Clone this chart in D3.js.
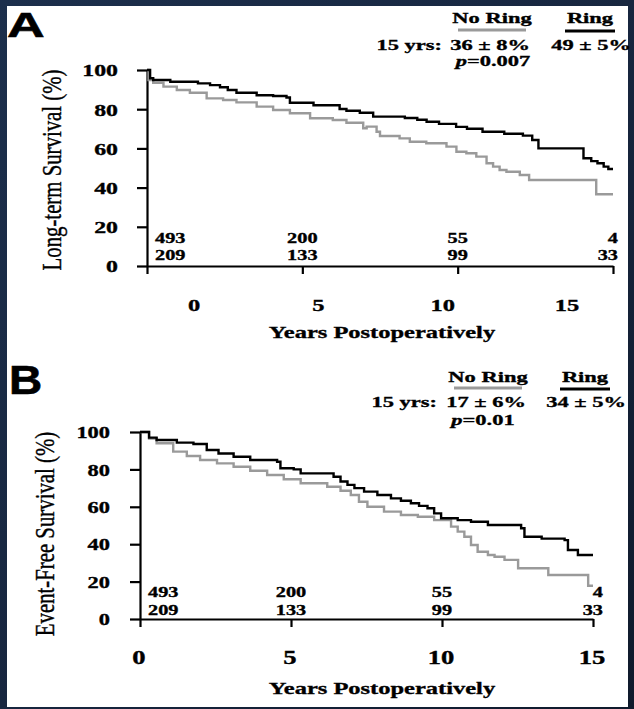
<!DOCTYPE html>
<html><head><meta charset="utf-8">
<script src="https://cdn.jsdelivr.net/npm/d3@7"></script>
<style>html,body{margin:0;padding:0;background:#15233a;}svg{display:block;}</style>
</head><body>
<svg id="chart" width="634" height="709"></svg>
<script>
// ---------- data ----------
const seriesNames = ["No Ring", "Ring"];
const yTicks = [0, 20, 40, 60, 80, 100];
const xTicks = [0, 5, 10, 15];
const ringAtRisk = [493, 200, 55, 4];
const noRingAtRisk = [209, 133, 99, 33];

// Panel A: long-term survival [years, %]
const ringA = [[0,100],[0.1,95.8],[0.2,94.9],[0.75,94],[1.64,93.2],[2.03,92.3],[2.35,91.2],[2.6,89.8],[2.88,88.4],[3.53,87.1],[4.06,86.7],[4.49,86],[4.6,83.3],[5.36,82],[6.2,80.1],[6.42,79.2],[6.85,78.2],[7.28,76.2],[8.3,75.5],[8.7,74.6],[9.0,73.6],[9.4,72.5],[9.95,71],[10.3,70],[10.8,68.5],[11.5,67.5],[12.1,66.5],[12.4,64.3],[12.6,60],[14.05,55],[14.3,53.5],[14.5,52.4],[14.7,50.7],[14.85,49.5],[15,49.5]];
const noRingA = [[0,100],[0.05,94.9],[0.2,93.5],[0.53,91.5],[0.96,89.8],[1.38,88.4],[1.92,85.5],[2.45,84.7],[2.88,83.5],[3.53,81.3],[4.06,79.6],[4.6,77.9],[5.25,75.4],[5.98,74.5],[6.42,73.1],[6.96,70.3],[7.07,71.1],[7.39,68.5],[7.5,66.3],[8.13,65.1],[8.46,63.4],[8.99,62.6],[9.64,60.9],[9.96,58.3],[10.28,57.5],[10.6,55.8],[10.93,52.4],[11.14,50.7],[11.35,49],[11.57,48.1],[12,46.4],[12.3,43.9],[14.46,36.6],[15,36.6]];
// Panel B: event-free survival
const ringB = [[0,100],[0.3,97],[0.55,95.7],[1.22,94.3],[1.77,93.6],[2.21,90.4],[2.6,88.5],[3.1,86.8],[3.65,85],[4.54,84.1],[4.65,80.6],[5.09,80],[5.32,77.9],[6.41,76.1],[6.64,73.5],[6.87,71.7],[7.1,70],[7.42,68.1],[7.86,66.3],[8.31,64.5],[8.64,63.2],[8.97,61.9],[9.24,60.5],[9.52,59.2],[9.74,56.5],[9.97,53.9],[10.52,52.9],[10.96,52],[11.52,50.3],[12.62,48.5],[12.73,44],[13.3,43],[14.06,42.2],[14.17,36.9],[14.5,34.2],[15,34.2]];
const noRingB = [[0,100],[0.3,96.5],[0.55,94],[1.1,89.5],[1.55,87.2],[1.99,85],[2.55,83.2],[3.1,81.4],[3.65,79.3],[4.21,77],[4.76,74.7],[5.32,72.6],[6.2,70.7],[6.64,68.6],[6.98,66.3],[7.25,62.7],[7.53,60],[8.08,57.4],[8.64,55.6],[9.2,54.7],[9.74,52.9],[10.3,49.4],[10.52,46.7],[10.74,44],[10.96,39.6],[11.18,36],[11.52,34.2],[11.74,33.3],[12.07,31.6],[12.52,27.1],[13.52,23.5],[14.84,17.8],[15,17.8]];

const fifteenYrA = ["36 ± 8%", "49 ± 5%"];
const fifteenYrB = ["17 ± 6%", "34 ± 5%"];
const pValues = ["0.007", "0.01"];
const yTitles = ["Long-term Survival (%)", "Event-Free Survival (%)"];
const panelLetters = ["A", "B"];
const xTitle = "Years Postoperatively";

// ---------- styling ----------
const colors = {"No Ring": "#9a9a9a", "Ring": "#000000"};
const SERIF = "'Liberation Serif','Times New Roman',serif";
const SANS = "'Liberation Sans',Arial,sans-serif";
const SX = 1.4;

const svg = d3.select("#chart");
const defs = svg.append("defs");
const grad = defs.append("linearGradient").attr("id","bg").attr("x1","0").attr("y1","0").attr("x2","1").attr("y2","1");
grad.append("stop").attr("offset","0").attr("stop-color","#1c2f4c");
grad.append("stop").attr("offset","0.5").attr("stop-color","#17263f");
grad.append("stop").attr("offset","1").attr("stop-color","#0f1a2c");
svg.append("rect").attr("width",634).attr("height",709).attr("fill","url(#bg)");
svg.append("rect").attr("x",7).attr("y",6).attr("width",621).attr("height",701).attr("fill","#ffffff");

function txt(g, x, y, s, o) {
  o = o || {};
  const t = g.append("text")
    .attr("transform", `translate(${x},${y}) scale(${o.sx || SX},1)`)
    .attr("text-anchor", o.anchor || "start")
    .attr("font-family", o.family || SERIF)
    .attr("font-size", o.size || 16)
    .attr("font-weight", o.weight || "bold")
    .attr("fill", o.fill || "#000")
    .attr("stroke", o.fill || "#000").attr("stroke-width", o.sw == null ? 0.35 : o.sw);
  if (o.style) t.attr("font-style", o.style);
  t.text(s);
  return t;
}

const panels = [
  {letter: panelLetters[0], ring: ringA, noRing: noRingA, yr15: fifteenYrA, p: pValues[0], ytitle: yTitles[0],
   xr: [147, 613], yr: [266, 70], xlab: [194, 567], letterPos: [7, 37], letterSize: 36, letterSX: 1.45,
   yTickSize: 17, xTickSize: 17.5, yLabRight: 118, yTitlePos: [61, 170], xLabBase: 311, xTitleBase: 338,
   riskBase: [243, 260], riskEndPad: 5, legendBase: 23, legNoRingX: 492, legRingX: 590, legLineY: [30, 31],
   yrsEnd: 442, yrsBase: 50, val1X: 490, val2X: 591, pX: 493, pBase: 66},
  {letter: panelLetters[1], ring: ringB, noRing: noRingB, yr15: fifteenYrB, p: pValues[1], ytitle: yTitles[1],
   xr: [140, 593], yr: [619, 432], xlab: [139, 592], letterPos: [9, 394], letterSize: 40, letterSX: 1.15,
   yTickSize: 16, xTickSize: 19, yLabRight: 110, yTitlePos: [54, 534], xLabBase: 664, xTitleBase: 694,
   riskBase: [597, 615], riskEndPad: 10, legendBase: 382, legNoRingX: 488, legRingX: 585, legLineY: [388, 389],
   yrsEnd: 437, yrsBase: 407, val1X: 486, val2X: 586, pX: 483, pBase: 425}
];

panels.forEach(P => {
  const g = svg.append("g");
  const x = d3.scaleLinear().domain([0, 15]).range(P.xr);
  const y = d3.scaleLinear().domain([0, 100]).range(P.yr);
  const xLab = d3.scaleLinear().domain([0, 15]).range(P.xlab);

  // panel letter
  txt(g, P.letterPos[0], P.letterPos[1], P.letter, {family: SANS, size: P.letterSize, sx: P.letterSX, sw: 0.6});

  // y axis
  const ya = g.append("g").attr("transform", `translate(${P.xr[0]},0)`)
    .call(d3.axisLeft(y).tickValues(yTicks).tickSize(10).tickSizeOuter(0));
  ya.select(".domain").attr("stroke-width", 2.2);
  ya.selectAll(".tick line").attr("stroke-width", 2.2);
  ya.selectAll(".tick text").each(function() {
    const t = d3.select(this);
    t.attr("x", null).attr("dy", "0.35em")
     .attr("transform", `translate(${P.yLabRight - P.xr[0]},0) scale(${SX},1)`)
     .attr("font-family", SERIF).attr("font-size", P.yTickSize).attr("font-weight", "bold")
     .attr("fill", "#000").attr("stroke", "#000").attr("stroke-width", 0.35);
  });

  // x axis (ticks only; labels placed on label scale)
  const xa = g.append("g").attr("transform", `translate(0,${P.yr[0]})`)
    .call(d3.axisBottom(x).tickValues(xTicks).tickSize(8).tickSizeOuter(0).tickFormat(() => ""));
  xa.select(".domain").attr("stroke-width", 2.2);
  xa.selectAll(".tick line").attr("stroke-width", 2.2);
  xTicks.forEach(v => txt(g, xLab(v), P.xLabBase, String(v), {anchor: "middle", size: P.xTickSize}));

  // x title
  txt(g, 382, P.xTitleBase, xTitle, {anchor: "middle", size: 17.5});

  // y title
  g.append("text")
    .attr("transform", `translate(${P.yTitlePos[0]},${P.yTitlePos[1]}) rotate(-90) scale(1,1.3)`)
    .attr("text-anchor", "middle").attr("font-family", SERIF).attr("font-size", 20.8)
    .attr("fill", "#000").attr("stroke", "#000").attr("stroke-width", 0.3).text(P.ytitle);

  // curves
  const line = d3.line().x(d => x(d[0])).y(d => y(d[1])).curve(d3.curveStepAfter);
  g.append("path").datum(P.noRing).attr("d", line).attr("fill", "none")
    .attr("stroke", colors["No Ring"]).attr("stroke-width", 2.4);
  g.append("path").datum(P.ring).attr("d", line).attr("fill", "none")
    .attr("stroke", colors["Ring"]).attr("stroke-width", 2.4);

  // numbers at risk
  xTicks.forEach((v, i) => {
    let anchor = "middle", px = x(v);
    if (i === 0) { anchor = "start"; px = x(v) + 8; }
    if (i === xTicks.length - 1) { anchor = "end"; px = x(v) + P.riskEndPad; }
    txt(g, px, P.riskBase[0], String(ringAtRisk[i]), {anchor, size: 14.5});
    txt(g, px, P.riskBase[1], String(noRingAtRisk[i]), {anchor, size: 14.5});
  });

  // legend
  const nrW = 68, rW = 50, LF = 15.5;
  txt(g, P.legNoRingX, P.legendBase, seriesNames[0], {anchor: "middle", size: LF, sx: 1.45});
  txt(g, P.legRingX, P.legendBase, seriesNames[1], {anchor: "middle", size: LF, sx: 1.45});
  g.append("line").attr("x1", P.legNoRingX - nrW/2).attr("x2", P.legNoRingX + nrW/2)
    .attr("y1", P.legLineY[0]).attr("y2", P.legLineY[0]).attr("stroke", colors["No Ring"]).attr("stroke-width", 3);
  g.append("line").attr("x1", P.legRingX - rW/2).attr("x2", P.legRingX + rW/2)
    .attr("y1", P.legLineY[1]).attr("y2", P.legLineY[1]).attr("stroke", colors["Ring"]).attr("stroke-width", 3);
  txt(g, P.yrsEnd, P.yrsBase, "15 yrs:", {anchor: "end", size: LF, sx: 1.45});
  txt(g, P.val1X, P.yrsBase, P.yr15[0], {anchor: "middle", size: LF, sx: 1.45});
  txt(g, P.val2X, P.yrsBase, P.yr15[1], {anchor: "middle", size: LF, sx: 1.45});
  const pt = g.append("text")
    .attr("transform", `translate(${P.pX},${P.pBase}) scale(1.45,1)`)
    .attr("text-anchor", "middle").attr("font-family", SERIF).attr("font-size", LF)
    .attr("font-weight", "bold").attr("fill", "#000").attr("stroke", "#000").attr("stroke-width", 0.35);
  pt.append("tspan").attr("font-style", "italic").text("p");
  pt.append("tspan").text("=" + P.p);
});
</script>
</body></html>
